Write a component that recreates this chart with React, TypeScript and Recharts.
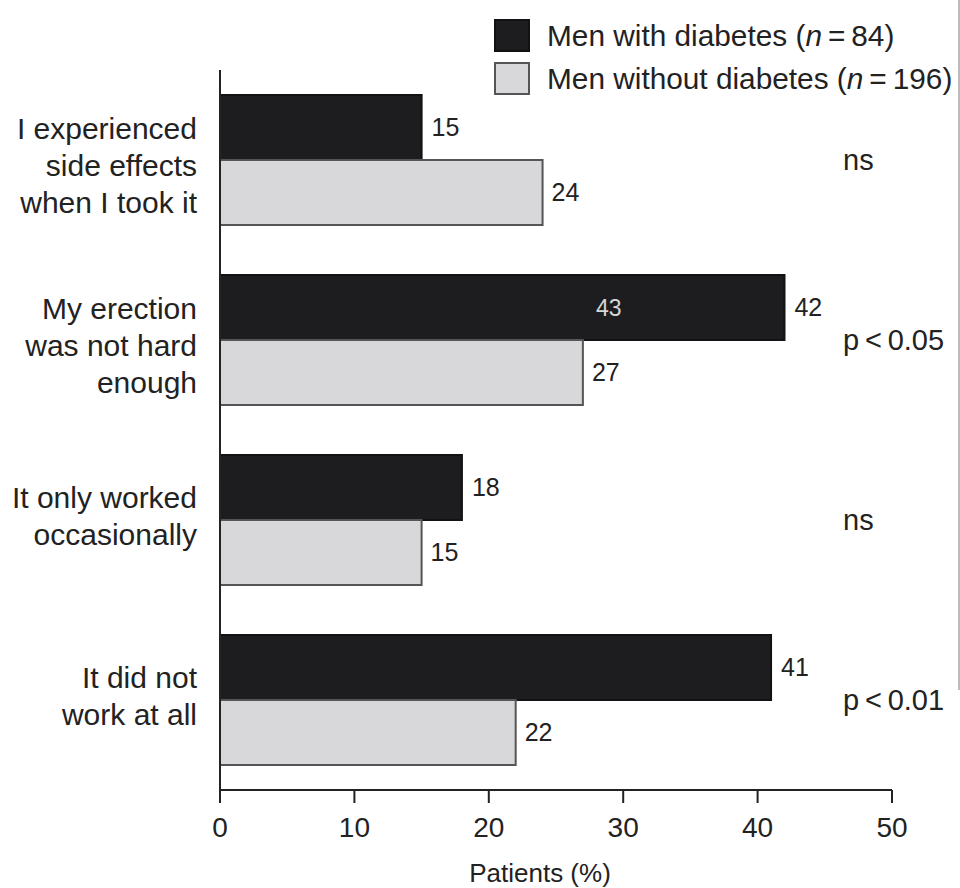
import { BarChart, Bar, XAxis, YAxis, LabelList } from "recharts"

// reasons given for stopping treatment, wrapped onto several lines
const categories = [
  "I experienced\nside effects\nwhen I took it",
  "My erection\nwas not hard\nenough",
  "It only worked\noccasionally",
  "It did not\nwork at all",
]
const withDiabetes = [15, 42, 18, 41]
const withoutDiabetes = [24, 27, 15, 22]
const pValues = ["ns", "p\u2009<\u20090.05", "ns", "p\u2009<\u20090.01"]
const innerNotes = ["", "43", "", ""]
const xTicks = [0, 10, 20, 30, 40, 50]

const series = [
  { key: "withDiabetes", name: "Men with diabetes", n: 84, fill: "#1d1d1f", stroke: "#121214" },
  { key: "withoutDiabetes", name: "Men without diabetes", n: 196, fill: "#d8d8da", stroke: "#555558" },
]

const data = categories.map((label, i) => ({
  label,
  withDiabetes: withDiabetes[i],
  withoutDiabetes: withoutDiabetes[i],
  p: pValues[i],
  note: innerNotes[i],
}))

const FONT = "'Liberation Sans', Arial, Helvetica, sans-serif"
const INK = "#222"

const CategoryTick = ({ x, y, payload }: any) => {
  const lines = String(payload.value).split("\n")
  const nudge = lines.length > 2 ? 6 : -4
  return (
    <text x={x} y={y} textAnchor="end" fontSize={30} fill={INK} fontFamily={FONT}>
      {lines.map((l, i) => (
        <tspan key={i} x={x} y={y + 10 + nudge + (i - (lines.length - 1) / 2) * 37}>{l}</tspan>
      ))}
    </text>
  )
}

const PValueTick = ({ x, y, index }: any) => (
  <text x={x - 49} y={y + 10} textAnchor="start" fontSize={29} fill={INK} fontFamily={FONT}>
    {pValues[index]}
  </text>
)

function LegendBox() {
  return (
    <div style={{ position: "absolute", left: 494, top: 14, fontFamily: FONT, fontSize: 29.8, color: INK }}>
      {series.map((s) => (
        <div key={s.key} style={{ display: "flex", alignItems: "center", height: 43, whiteSpace: "nowrap" }}>
          <span
            style={{
              width: 32, height: 29, background: s.fill, border: `2px solid ${s.stroke}`,
              marginRight: 17, flex: "none",
            }}
          />
          <span>
            {s.name} (<i>n</i>{"\u2009=\u2009"}{s.n})
          </span>
        </div>
      ))}
    </div>
  )
}

export default function App() {
  return (
    <div style={{ position: "absolute", left: 0, top: 0, width: 960, height: 888, background: "#fff", overflow: "hidden" }}>
      <BarChart
        width={960}
        height={888}
        data={data}
        layout="vertical"
        margin={{ top: 70, right: 0, left: 0, bottom: 0 }}
        barCategoryGap={25}
        barGap={0}
        style={{ fontFamily: FONT }}
      >
        <XAxis
          type="number"
          domain={[0, 50]}
          ticks={xTicks}
          height={98}
          tickSize={13}
          tickMargin={14}
          axisLine={{ stroke: INK, strokeWidth: 2 }}
          tickLine={{ stroke: INK, strokeWidth: 2 }}
          tick={{ fontSize: 28, fill: INK, fontFamily: FONT }}
          label={(props: any) => {
            const vb = props.viewBox
            return (
              <text x={vb.x + vb.width / 2 - 16} y={882} textAnchor="middle" fontSize={26} fill={INK} fontFamily={FONT}>
                Patients (%)
              </text>
            )
          }}
        />
        <YAxis
          yAxisId="cat"
          type="category"
          dataKey="label"
          width={220}
          tickSize={0}
          tickMargin={23}
          axisLine={{ stroke: INK, strokeWidth: 2 }}
          tickLine={false}
          tick={<CategoryTick />}
        />
        <YAxis
          yAxisId="p"
          orientation="right"
          type="category"
          dataKey="p"
          width={68}
          tickSize={0}
          tickMargin={0}
          axisLine={false}
          tickLine={false}
          tick={<PValueTick />}
        />
        <Bar yAxisId="cat" dataKey="withDiabetes" name="Men with diabetes" fill={series[0].fill}
          stroke={series[0].stroke} strokeWidth={2} isAnimationActive={false}>
          <LabelList dataKey="withDiabetes" position="right" offset={10} fontSize={25} fill={INK} fontFamily={FONT} />
          <LabelList dataKey="note" position="insideRight" offset={163} fontSize={23} fill="#d6d6d6" fontFamily={FONT} />
        </Bar>
        <Bar yAxisId="cat" dataKey="withoutDiabetes" name="Men without diabetes" fill={series[1].fill}
          stroke={series[1].stroke} strokeWidth={2} isAnimationActive={false}>
          <LabelList dataKey="withoutDiabetes" position="right" offset={9} fontSize={25} fill={INK} fontFamily={FONT} />
        </Bar>
      </BarChart>
      <LegendBox />
      {/* faint rule along the right edge */}
      <div style={{ position: "absolute", left: 958, top: 0, width: 1.5, height: 690, background: "#bcbcbc" }} />
    </div>
  )
}
